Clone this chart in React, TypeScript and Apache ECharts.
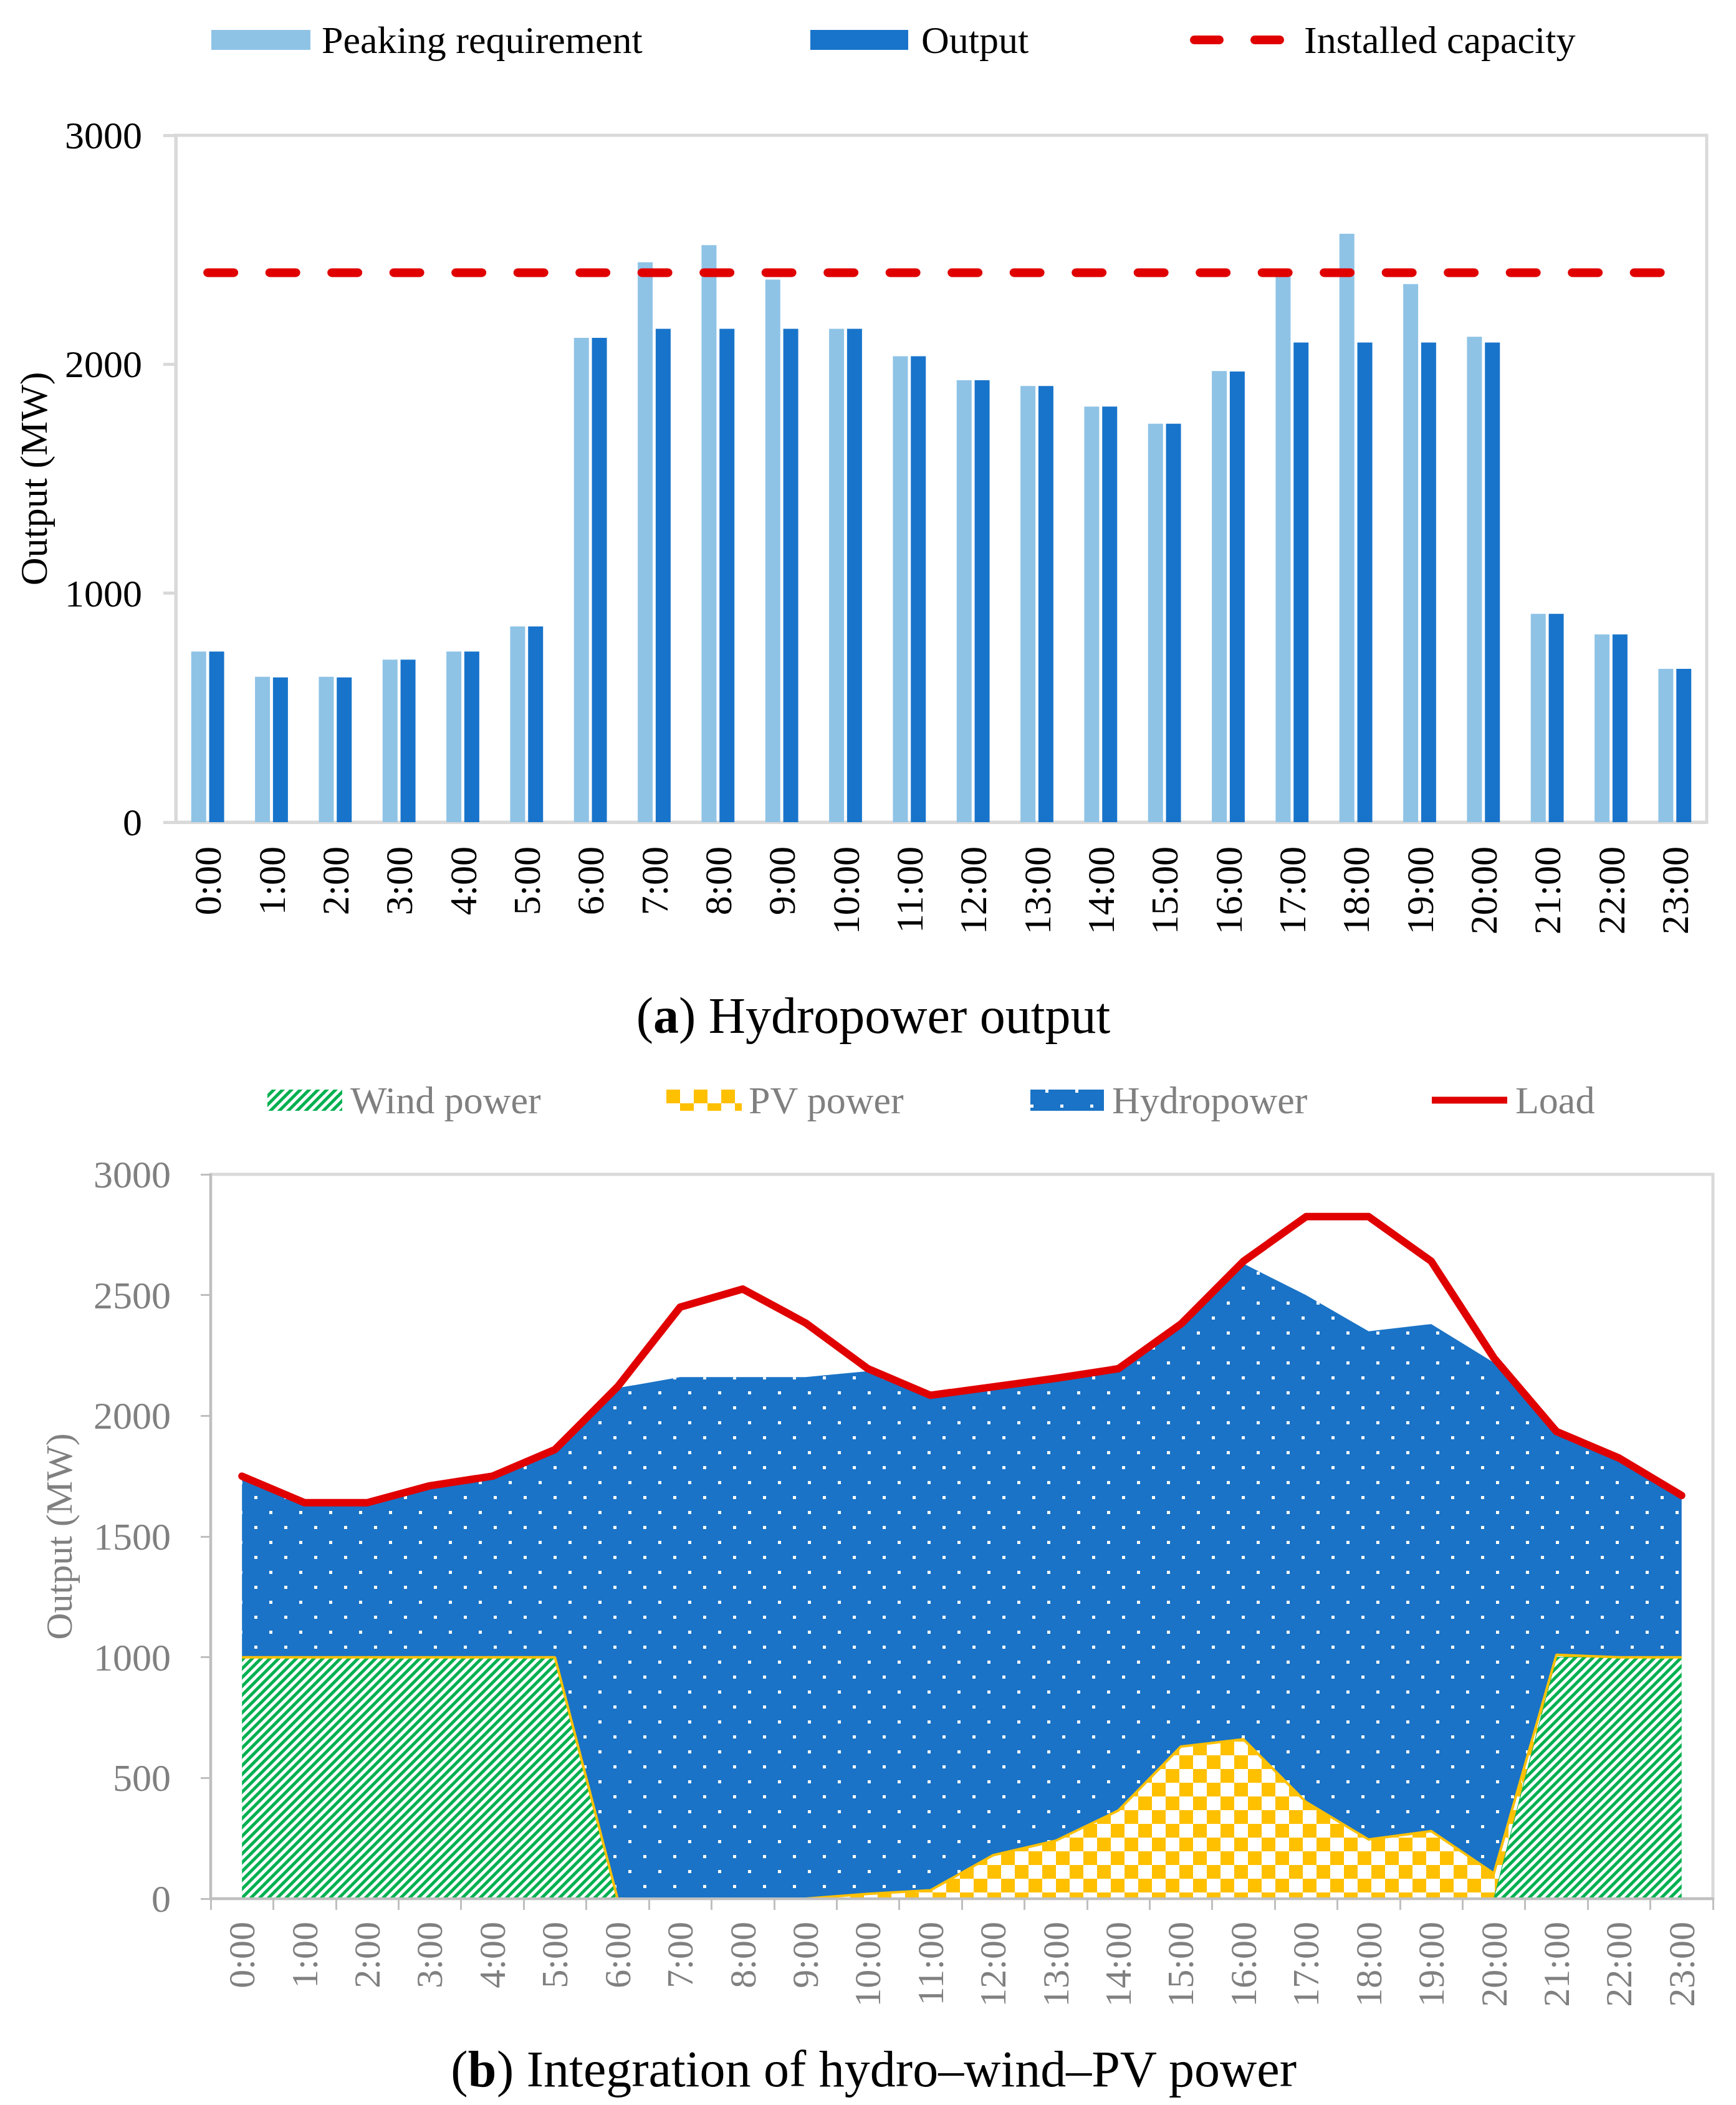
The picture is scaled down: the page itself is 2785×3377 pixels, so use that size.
import React, { useEffect, useRef } from 'react';
import * as echarts from 'echarts';

const FONT = 'Liberation Serif';

const hours = ['0:00', '1:00', '2:00', '3:00', '4:00', '5:00', '6:00', '7:00', '8:00', '9:00', '10:00', '11:00',
  '12:00', '13:00', '14:00', '15:00', '16:00', '17:00', '18:00', '19:00', '20:00', '21:00', '22:00', '23:00'];

// (a) Hydropower output
const peakingRequirement = [745, 635, 635, 710, 745, 855, 2115, 2445, 2520, 2370, 2155, 2035, 1930, 1905, 1815, 1740, 1970, 2410, 2570, 2350, 2120, 910, 820, 670];
const hydroOutput = [745, 632, 632, 710, 745, 855, 2115, 2155, 2155, 2155, 2155, 2035, 1930, 1905, 1815, 1740, 1968, 2095, 2095, 2095, 2095, 910, 820, 670];
const installedCapacity = [2400, 2400, 2400, 2400, 2400, 2400, 2400, 2400, 2400, 2400, 2400, 2400, 2400, 2400, 2400, 2400, 2400, 2400, 2400, 2400, 2400, 2400, 2400, 2400];

// (b) Integration of hydro-wind-PV power
const windPower = [1000, 1000, 1000, 1000, 1000, 1000, 0, 0, 0, 0, 0, 0, 0, 0, 0, 0, 0, 0, 0, 0, 0, 1000, 1000, 1000];
const pvPower = [0, 0, 0, 0, 0, 0, 0, 0, 0, 0, 20, 35, 180, 240, 365, 630, 660, 400, 245, 280, 105, 10, 0, 0];
const hydroPower = [745, 635, 635, 705, 745, 855, 2115, 2160, 2160, 2160, 2165, 2050, 1940, 1915, 1830, 1750, 1970, 2100, 2105, 2100, 2115, 925, 825, 670];
const load = [1750, 1640, 1640, 1710, 1750, 1860, 2120, 2450, 2525, 2385, 2195, 2085, 2120, 2155, 2195, 2380, 2640, 2825, 2825, 2640, 2240, 1935, 1825, 1670];

const C_LIGHT = '#8EC3E6';
const C_DARK = '#1874CB';
const C_RED = '#E00000';
const C_GREEN = '#00B050';
const C_YELLOW = '#FFC000';
const C_HYDRO = '#1A73C6';
const GRAY_TEXT = '#808080';

function legendA(name: string, left: number, w: number, h: number, pad: number, icon: string, color: string) {
  return {
    left, top: 33, padding: 0, itemGap: 0, itemWidth: w, itemHeight: h, selectedMode: false,
    textStyle: { fontSize: 62, fontFamily: FONT, color: '#000', padding: [0, 0, 0, pad] },
    data: [{ name, icon, itemStyle: { color } }],
  };
}
function legendB(name: string, left: number, w: number, h: number, pad: number, icon: string) {
  return {
    left, top: 1734, padding: 0, itemGap: 0, itemWidth: w, itemHeight: h, selectedMode: false,
    textStyle: { fontSize: 62, fontFamily: FONT, color: GRAY_TEXT, padding: [0, 0, 0, pad] },
    data: [{ name, icon }],
  };
}

const plain = (v: number) => String(v);

export default function App() {
  const ref = useRef<HTMLDivElement>(null);
  useEffect(() => {
    if (!ref.current) return;
    const chart = echarts.init(ref.current, null, { renderer: 'svg' });
    const dashIcon = 'path://M7,0H47A7,7,0,0,1,47,14H7A7,7,0,0,1,7,0ZM104,0H144A7,7,0,0,1,144,14H104A7,7,0,0,1,104,0Z';
    const option: any = {
      animation: false,
      textStyle: { fontFamily: FONT },
      legend: [
        legendA('Peaking requirement', 339, 159, 32, 13, 'rect', C_LIGHT),
        legendA('Output', 1300, 157, 32, 16, 'rect', C_DARK),
        legendA('Installed capacity', 1909, 151, 14, 27, dashIcon, C_RED),
        legendB('Wind power', 429, 120, 34, 8, 'rect'),
        legendB('PV power', 1069, 121, 34, 6, 'rect'),
        legendB('Hydropower', 1653, 118, 34, 8, 'rect'),
        legendB('Load', 2297, 121, 11, 8, 'rect'),
      ],
      grid: [
        { left: 282, top: 217, width: 2456, height: 1102, show: true, borderColor: '#D9D9D9', borderWidth: 5 },
        { left: 338, top: 1884, width: 2410, height: 1162, show: true, borderColor: '#D9D9D9', borderWidth: 5 },
      ],
      xAxis: [
        {
          type: 'category', gridIndex: 0, data: hours,
          axisLine: { lineStyle: { color: '#D9D9D9', width: 5 } },
          axisTick: { show: false },
          axisLabel: { rotate: 90, margin: 39, fontSize: 62, color: '#000', fontFamily: FONT, interval: 0 },
        },
        {
          type: 'category', gridIndex: 1, data: hours, z: 5,
          axisLine: { lineStyle: { color: '#BFBFBF', width: 4 } },
          axisTick: { show: true, length: 18, interval: 0, lineStyle: { color: '#BFBFBF', width: 3 } },
          axisLabel: { rotate: 90, margin: 37, fontSize: 60, color: GRAY_TEXT, fontFamily: FONT, interval: 0 },
        },
      ],
      yAxis: [
        {
          type: 'value', gridIndex: 0, min: 0, max: 3000, interval: 1000,
          name: 'Output (MW)', nameLocation: 'middle', nameGap: 197,
          nameTextStyle: { fontSize: 62, color: '#000', fontFamily: FONT },
          axisLine: { show: true, lineStyle: { color: '#D9D9D9', width: 5 } },
          axisTick: { show: true, length: 20, lineStyle: { color: '#D9D9D9', width: 5 } },
          splitLine: { show: false },
          axisLabel: { fontSize: 62, color: '#000', margin: 54, fontFamily: FONT, formatter: plain },
        },
        {
          type: 'value', gridIndex: 1, min: 0, max: 3000, interval: 500,
          name: 'Output (MW)', nameLocation: 'middle', nameGap: 213,
          nameTextStyle: { fontSize: 60, color: GRAY_TEXT, fontFamily: FONT },
          axisLine: { show: true, lineStyle: { color: '#BFBFBF', width: 4 } },
          axisTick: { show: true, length: 16, lineStyle: { color: '#BFBFBF', width: 3 } },
          splitLine: { show: false },
          axisLabel: { fontSize: 62, color: GRAY_TEXT, margin: 64, fontFamily: FONT, formatter: plain },
        },
      ],
      series: [
        {
          name: 'Peaking requirement', type: 'bar', xAxisIndex: 0, yAxisIndex: 0, data: peakingRequirement,
          barWidth: 24, barGap: '20%', itemStyle: { color: C_LIGHT },
        },
        {
          name: 'Output', type: 'bar', xAxisIndex: 0, yAxisIndex: 0, data: hydroOutput,
          barWidth: 24, barGap: '20%', itemStyle: { color: C_DARK },
        },
        {
          name: 'Installed capacity', type: 'line', xAxisIndex: 0, yAxisIndex: 0, data: installedCapacity,
          symbol: 'none', z: 4, itemStyle: { color: C_RED },
          lineStyle: { color: C_RED, width: 14, type: [42, 57.5], cap: 'round' },
        },
        {
          name: 'Wind power', type: 'line', xAxisIndex: 1, yAxisIndex: 1, stack: 'total', data: windPower,
          symbol: 'none', lineStyle: { width: 1, color: C_GREEN },
          itemStyle: {
            color: C_GREEN,
            decal: { symbol: 'rect', symbolSize: 1, color: '#FFFFFF', dashArrayX: [1, 0], dashArrayY: [5, 5], rotation: -Math.PI / 4 },
          },
          areaStyle: { color: C_GREEN, opacity: 1 },
        },
        {
          name: 'PV power', type: 'line', xAxisIndex: 1, yAxisIndex: 1, stack: 'total', data: pvPower,
          symbol: 'none', lineStyle: { width: 4, color: C_YELLOW },
          itemStyle: {
            color: C_YELLOW,
            decal: { symbol: 'rect', symbolSize: 1, color: '#FFFFFF', dashArrayX: [[22, 22], [0, 22, 22, 0]], dashArrayY: [22, 0], rotation: 0 },
          },
          areaStyle: { color: C_YELLOW, opacity: 1 },
        },
        {
          name: 'Hydropower', type: 'line', xAxisIndex: 1, yAxisIndex: 1, stack: 'total', data: hydroPower,
          symbol: 'none', lineStyle: { width: 0, color: C_HYDRO },
          itemStyle: {
            color: C_HYDRO,
            decal: { symbol: 'rect', symbolSize: 1, color: '#FFFFFF', dashArrayX: [[5, 43], [0, 24, 5, 19]], dashArrayY: [5, 19], rotation: 0 },
          },
          areaStyle: { color: C_HYDRO, opacity: 1 },
        },
        {
          name: 'Load', type: 'line', xAxisIndex: 1, yAxisIndex: 1, data: load,
          symbol: 'none', z: 4, itemStyle: { color: C_RED },
          lineStyle: { color: C_RED, width: 12, join: 'round', cap: 'round' },
        },
      ],
      graphic: {
        elements: [
          {
            type: 'text', x: 1401, y: 1629,
            style: {
              text: '{n|(}{b|a}{n|) Hydropower output}',
              align: 'center', verticalAlign: 'middle', textAlign: 'center', textVerticalAlign: 'middle',
              fill: '#000', fontSize: 82, fontFamily: FONT,
              rich: {
                n: { fontSize: 82, fontFamily: FONT, fill: '#000' },
                b: { fontSize: 82, fontFamily: FONT, fontWeight: 'bold', fill: '#000' },
              },
            },
          },
          {
            type: 'text', x: 1402, y: 3319,
            style: {
              text: '{n|(}{b|b}{n|) Integration of hydro\u2013wind\u2013PV power}',
              align: 'center', verticalAlign: 'middle', textAlign: 'center', textVerticalAlign: 'middle',
              fill: '#000', fontSize: 82, fontFamily: FONT,
              rich: {
                n: { fontSize: 82, fontFamily: FONT, fill: '#000' },
                b: { fontSize: 82, fontFamily: FONT, fontWeight: 'bold', fill: '#000' },
              },
            },
          },
        ],
      },
    };
    chart.setOption(option);
    return () => chart.dispose();
  }, []);
  return <div ref={ref} style={{ position: 'absolute', left: 0, top: 0, width: 2785, height: 3377, background: '#fff' }} />;
}
